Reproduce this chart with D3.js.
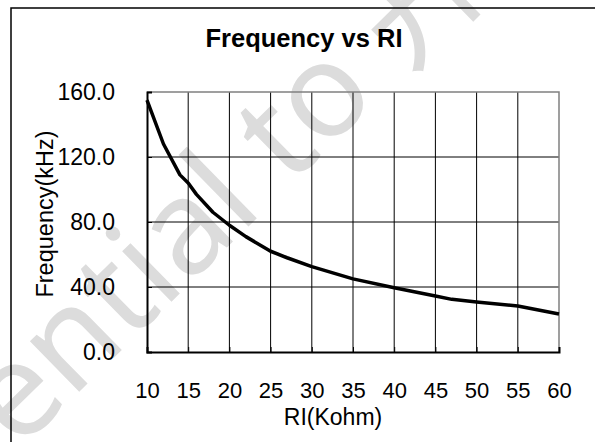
<!DOCTYPE html>
<html>
<head>
<meta charset="utf-8">
<script src="https://cdn.jsdelivr.net/npm/d3@7"></script>
<style>
  html, body { margin: 0; padding: 0; background: #fff; }
  svg { display: block; }
  text { font-family: "Liberation Sans", Arial, sans-serif; fill: #000; }
</style>
</head>
<body>
<script>
// values
const rl = [10, 12, 14, 15, 16, 18, 20, 22, 25, 27, 30, 35, 40, 45, 47, 50, 55, 60];
const freq = [155, 128, 109, 104, 97, 86, 78, 71, 62, 58, 52.5, 45, 39.5, 34.5, 32.4, 30.8, 28.3, 23.4];
const xTicks = [10, 15, 20, 25, 30, 35, 40, 45, 50, 55, 60];
const yTicks = [0, 40, 80, 120, 160];

const width = 595, height = 442;
const plot = { left: 147, right: 559, top: 92, bottom: 352 };

const svg = d3.select("body").append("svg")
    .attr("width", width)
    .attr("height", height);

// watermark, sits behind everything.
// size it so the "e" and the "o" of "to" land where they do in the scan
const wmFont = "'Noto Sans', 'Noto Sans CJK SC', sans-serif";
function textLen(s) {
    const t = svg.append("text")
        .style("font-family", wmFont)
        .style("font-size", "100px")
        .text(s);
    const w = t.node().getComputedTextLength();
    t.remove();
    return w;
}
const eX = textLen("Confid") + textLen("e") / 2;
const oX = textLen("Confidential t") + textLen("o") / 2;
const ePt = [20, 400], oPt = [327, 100];
const dist = Math.hypot(oPt[0] - ePt[0], oPt[1] - ePt[1]);
const fs = 100 * dist / (oX - eX);
const ang = Math.atan2(oPt[1] - ePt[1], oPt[0] - ePt[0]);
const oLocal = [oX * fs / 100, -0.27 * fs];
const tx = oPt[0] - (oLocal[0] * Math.cos(ang) - oLocal[1] * Math.sin(ang));
const ty = oPt[1] - (oLocal[0] * Math.sin(ang) + oLocal[1] * Math.cos(ang));
svg.append("text")
    .attr("transform", `translate(${tx},${ty}) rotate(${ang * 180 / Math.PI})`)
    .style("font-family", wmFont)
    .style("font-size", fs + "px")
    .style("fill", "#dcdcdc")
    .text("Confidential to 开发");

// outer frame (runs off the right and bottom edge)
svg.append("rect")
    .attr("x", 11).attr("y", 8)
    .attr("width", width + 20).attr("height", height + 20)
    .attr("fill", "none")
    .attr("stroke", "#000")
    .attr("stroke-width", 1.5);

const x = d3.scaleLinear().domain([10, 60]).range([plot.left, plot.right]);
const y = d3.scaleLinear().domain([0, 160]).range([plot.bottom, plot.top]);

// grid
svg.append("g")
    .selectAll("line")
    .data(xTicks.slice(1, -1))
    .enter().append("line")
        .attr("x1", d => x(d)).attr("x2", d => x(d))
        .attr("y1", plot.top).attr("y2", plot.bottom)
        .attr("stroke", "#000").attr("stroke-width", 1);

svg.append("g")
    .selectAll("line")
    .data(yTicks.slice(1, -1))
    .enter().append("line")
        .attr("x1", plot.left).attr("x2", plot.right)
        .attr("y1", d => y(d)).attr("y2", d => y(d))
        .attr("stroke", "#000").attr("stroke-width", 1);

// top and right border are grey
svg.append("path")
    .attr("d", `M${plot.left},${plot.top}H${plot.right}V${plot.bottom}`)
    .attr("fill", "none")
    .attr("stroke", "#808080")
    .attr("stroke-width", 1.5);

// axes
const yAxis = svg.append("g")
    .attr("transform", `translate(${plot.left},0)`)
    .call(d3.axisLeft(y).tickValues(yTicks).tickFormat(d3.format(".1f")).tickSize(-5).tickPadding(32));
const xAxis = svg.append("g")
    .attr("transform", `translate(0,${plot.bottom})`)
    .call(d3.axisBottom(x).tickValues(xTicks).tickSize(-5).tickPadding(30));

[yAxis, xAxis].forEach(g => {
    g.select(".domain").attr("stroke", "#000").attr("stroke-width", 2);
    g.selectAll(".tick line").attr("stroke", "#000");
    g.selectAll("text")
        .style("font-family", "'Liberation Sans', Arial, sans-serif")
        .attr("fill", "#000");
});
yAxis.selectAll("text").style("font-size", "23px");
xAxis.selectAll("text").style("font-size", "22px").attr("dy", "0.71em");

// curve
const line = d3.line()
    .x(d => x(d[0]))
    .y(d => y(d[1]));

svg.append("path")
    .datum(rl.map((r, i) => [r, freq[i]]))
    .attr("d", line)
    .attr("fill", "none")
    .attr("stroke", "#000")
    .attr("stroke-width", 3.5)
    .attr("stroke-linejoin", "round");

// titles
svg.append("text")
    .attr("x", 304).attr("y", 47)
    .attr("text-anchor", "middle")
    .style("font-size", "25.5px")
    .style("font-weight", "bold")
    .text("Frequency vs RI");

svg.append("text")
    .attr("x", 333).attr("y", 425)
    .attr("text-anchor", "middle")
    .style("font-size", "23px")
    .text("RI(Kohm)");

svg.append("text")
    .attr("transform", "translate(53,214) rotate(-90)")
    .attr("text-anchor", "middle")
    .style("font-size", "23.5px")
    .text("Frequency(kHz)");
</script>
</body>
</html>
